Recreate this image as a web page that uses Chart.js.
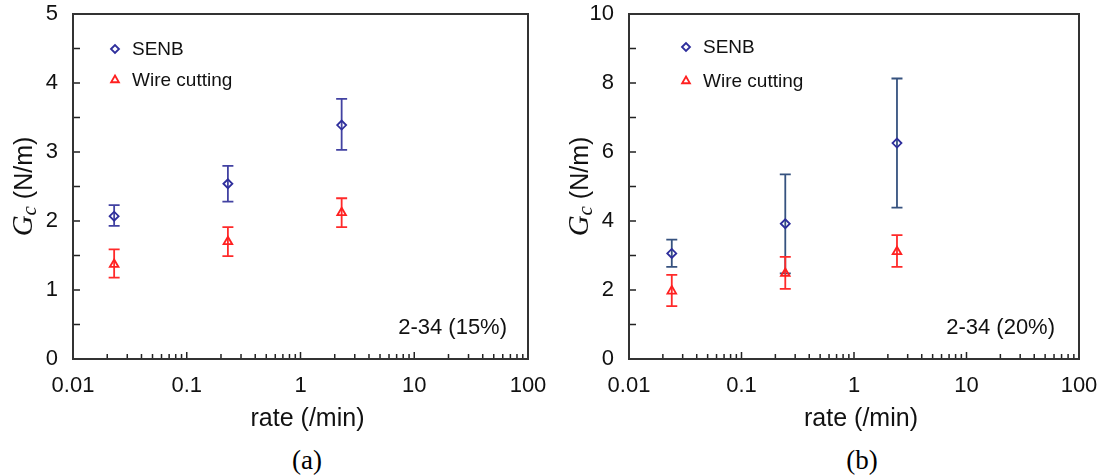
<!DOCTYPE html>
<html lang="en">
<head>
<meta charset="UTF-8" />
<title>Gc vs rate</title>
<style>
  body { margin: 0; background: #fff; }
  #wrap { position: relative; width: 1107px; height: 475px; }
  #wrap canvas { position: absolute; top: 0; }
  .cap { position: absolute; top: 445px; width: 80px; line-height: 30px; text-align: center;
         font-size: 27px; font-family: "Liberation Serif", "Times New Roman", serif; color: #000; }
</style>
</head>
<body>
<div id="wrap">
  <canvas id="chartA" width="553" height="440" style="left:0px"></canvas>
  <canvas id="chartB" width="554" height="440" style="left:553px"></canvas>
  <div class="cap" style="left:267px">(a)</div>
  <div class="cap" style="left:822px">(b)</div>
</div>

<script src="https://cdn.jsdelivr.net/npm/chart.js@4.4.0/dist/chart.umd.min.js"></script>
<script>
// (a) 2-34 (15%)
const rateA = [0.023, 0.23, 2.3];
const senbA = [2.07, 2.54, 3.39];
const senbLowA = [1.93, 2.28, 3.03];
const senbHighA = [2.23, 2.80, 3.77];
const wireA = [1.37, 1.70, 2.12];
const wireLowA = [1.18, 1.49, 1.91];
const wireHighA = [1.59, 1.91, 2.33];

// (b) 2-34 (20%)
const rateB = [0.024, 0.245, 2.41];
const senbB = [3.06, 3.92, 6.26];
const senbLowB = [2.67, 2.48, 4.39];
const senbHighB = [3.46, 5.35, 8.13];
const wireB = [1.97, 2.48, 3.11];
const wireLowB = [1.53, 2.03, 2.67];
const wireHighB = [2.44, 2.96, 3.59];

const xTicks = [0.01, 0.1, 1, 10, 100];
const seriesNames = ['SENB', 'Wire cutting'];

const SANS = '"Liberation Sans", Arial, sans-serif';
const SERIF = '"Liberation Serif", "Times New Roman", serif';
Chart.defaults.font.family = SANS;
Chart.defaults.color = '#111';

// scales must not push the plot area around, layout padding decides
function noPad(s) {
    s.paddingTop = 0; s.paddingBottom = 0; s.paddingLeft = 0; s.paddingRight = 0;
}

// frame, inward ticks, error bars, legend and titles
const paperPlugin = {
    id: 'paper',
    beforeDatasetsDraw(chart) {
        const {ctx, scales: {x, y}} = chart;
        chart.data.datasets.forEach(ds => {
            ctx.save();
            ctx.strokeStyle = ds.barColor;
            ctx.lineWidth = 1.8;
            ds.data.forEach((p, i) => {
                const px = x.getPixelForValue(p.x);
                const top = y.getPixelForValue(ds.high[i]);
                const bot = y.getPixelForValue(ds.low[i]);
                ctx.beginPath();
                ctx.moveTo(px, top); ctx.lineTo(px, bot);
                ctx.moveTo(px - 5.5, top); ctx.lineTo(px + 5.5, top);
                ctx.moveTo(px - 5.5, bot); ctx.lineTo(px + 5.5, bot);
                ctx.stroke();
            });
            ctx.restore();
        });
    },
    afterDraw(chart, args, opts) {
        const {ctx, chartArea: a, scales: {x, y}} = chart;
        ctx.save();
        // ticks
        ctx.strokeStyle = '#222';
        ctx.lineWidth = 1.5;
        ctx.beginPath();
        for (let v = y.min; v <= y.max + 1e-9; v += opts.minorStep) {
            const py = y.getPixelForValue(v);
            ctx.moveTo(a.left, py); ctx.lineTo(a.left + 7, py);
        }
        for (let k = -2; k < 2; k++) {
            for (let m = 1; m <= 9; m++) {
                const px = x.getPixelForValue(m * Math.pow(10, k));
                ctx.moveTo(px, a.bottom); ctx.lineTo(px, a.bottom - (m === 1 ? 7 : 5));
            }
        }
        ctx.stroke();
        // frame
        ctx.strokeStyle = '#333';
        ctx.lineWidth = 2;
        ctx.strokeRect(a.left, a.top, a.right - a.left, a.bottom - a.top);

        // legend
        chart.data.datasets.forEach((ds, i) => {
            const lx = a.left + opts.legendX;
            const ly = opts.legendY[i];
            ctx.strokeStyle = ds.borderColor;
            ctx.fillStyle = 'rgba(0,0,0,0)';
            ctx.lineWidth = 1.8;
            Chart.helpers.drawPoint(ctx, {pointStyle: ds.pointStyle, radius: ds.pointRadius - 0.5, rotation: 0, borderWidth: 1.8}, lx, ly);
            ctx.fillStyle = '#111';
            ctx.font = '19px ' + SANS;
            ctx.textAlign = 'left';
            ctx.textBaseline = 'middle';
            ctx.fillText(ds.label, lx + 17, ly + 1);
        });

        // sample note
        ctx.fillStyle = '#111';
        ctx.font = '22px ' + SANS;
        ctx.textAlign = 'right';
        ctx.textBaseline = 'middle';
        ctx.fillText(opts.note, a.right - opts.noteRight, a.bottom - 31);

        // x title
        ctx.font = '25px ' + SANS;
        ctx.textAlign = 'center';
        ctx.fillText('rate (/min)', (a.left + a.right) / 2 + 7, 419);

        // y title: G_c (N/m)
        ctx.translate(a.left - 50, (a.top + a.bottom) / 2);
        ctx.rotate(-Math.PI / 2);
        const fG = 'italic 29px ' + SERIF, fc = 'italic 21px ' + SERIF, fu = '25px ' + SANS;
        ctx.font = fG; const wG = ctx.measureText('G').width;
        ctx.font = fc; const wc = ctx.measureText('c').width;
        ctx.font = fu; const wu = ctx.measureText(' (N/m)').width;
        let sx = -(wG + wc + wu) / 2;
        ctx.textAlign = 'left';
        ctx.textBaseline = 'alphabetic';
        ctx.font = fG; ctx.fillText('G', sx, 9); sx += wG;
        ctx.font = fc; ctx.fillText('c', sx, 13); sx += wc;
        ctx.font = fu; ctx.fillText(' (N/m)', sx, 9);
        ctx.restore();
    }
};

function makeChart(id, rates, senb, senbLow, senbHigh, wire, wireLow, wireHigh, cfg) {
    const ctx = document.getElementById(id).getContext('2d');
    return new Chart(ctx, {
        type: 'scatter',
        data: {
            datasets: [{
                label: seriesNames[0],
                data: rates.map((r, i) => ({x: r, y: senb[i]})),
                low: senbLow,
                high: senbHigh,
                barColor: cfg.senbBar,
                pointStyle: 'rectRot',
                pointRadius: 4.5,
                borderColor: '#2e2e9c',
                backgroundColor: 'rgba(0,0,0,0)',
                borderWidth: 1.8
            }, {
                label: seriesNames[1],
                data: rates.map((r, i) => ({x: r, y: wire[i]})),
                low: wireLow,
                high: wireHigh,
                barColor: '#ff2a2a',
                pointStyle: 'triangle',
                pointRadius: 5,
                borderColor: '#ff2020',
                backgroundColor: 'rgba(0,0,0,0)',
                borderWidth: 1.8
            }]
        },
        options: {
            responsive: false,
            animation: false,
            events: [],
            layout: {padding: {top: 14, right: cfg.padRight, bottom: 0, left: 0}},
            scales: {
                x: {
                    type: 'logarithmic',
                    min: 0.01,
                    max: 100,
                    grid: {display: false, drawTicks: false},
                    border: {display: false},
                    afterBuildTicks: s => { s.ticks = xTicks.map(v => ({value: v})); },
                    afterFit: s => { s.height = 81; noPad(s); },
                    ticks: {
                        autoSkip: false,
                        maxRotation: 0,
                        padding: 14,
                        font: {size: 22},
                        callback: v => String(v)
                    }
                },
                y: {
                    min: 0,
                    max: cfg.yMax,
                    grid: {display: false, drawTicks: false},
                    border: {display: false},
                    afterFit: s => { s.width = cfg.leftW; noPad(s); },
                    ticks: {stepSize: cfg.yStep, padding: 15, font: {size: 22}}
                }
            },
            plugins: {
                legend: {display: false},
                tooltip: {enabled: false},
                paper: {
                    minorStep: cfg.minorStep,
                    legendX: cfg.legendX,
                    legendY: cfg.legendY,
                    note: cfg.note,
                    noteRight: cfg.noteRight
                }
            }
        },
        plugins: [paperPlugin]
    });
}

makeChart('chartA', rateA, senbA, senbLowA, senbHighA, wireA, wireLowA, wireHighA, {
    senbBar: '#4242a2', padRight: 25, leftW: 73, yMax: 5, yStep: 1, minorStep: 0.5,
    legendX: 42, legendY: [49, 80], note: '2-34 (15%)', noteRight: 21
});
makeChart('chartB', rateB, senbB, senbLowB, senbHighB, wireB, wireLowB, wireHighB, {
    senbBar: '#36527f', padRight: 28, leftW: 76, yMax: 10, yStep: 2, minorStep: 1,
    legendX: 57, legendY: [47, 81], note: '2-34 (20%)', noteRight: 24
});
</script>
</body>
</html>
